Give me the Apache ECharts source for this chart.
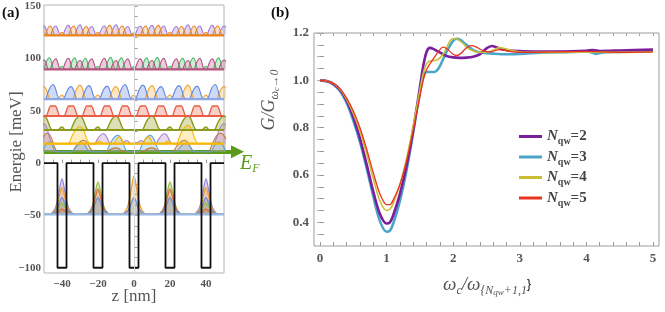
<!DOCTYPE html>
<html><head><meta charset="utf-8">
<script src="https://cdn.jsdelivr.net/npm/echarts@6/dist/echarts.min.js"></script>
<style>html,body{margin:0;padding:0;background:#fff}#c{width:665px;height:312px}</style>
</head><body><div id="c"></div>
<script>
// ---------- Panel (a) data ----------
const potential = [[-50,0],[-42.5,0],[-42.5,-100],[-37.5,-100],[-37.5,0],[-22.5,0],[-22.5,-100],[-17.5,-100],[-17.5,0],[-2.5,0],[-2.5,-100],[2.5,-100],[2.5,0],[17.5,0],[17.5,-100],[22.5,-100],[22.5,0],[37.5,0],[37.5,-100],[42.5,-100],[42.5,0],[50,0]];
const fermiLevel = 10.8;
const levels = {A:122, B:89.5, C:61, D:45, E:31.5, F1:18.5, G:-49};

// humps: [centre z (nm), peak energy (meV), half width (nm)]
const humpsA_purple = [[-50,131,2.8],[-43.5,131,2.8],[-36.5,131.5,2.8],[-30,132,2.8],[-23.5,130.5,2.8],[-16.5,131,2.8],[-10,132,2.8],[-3.5,130.5,2.8],[3.5,131,2.8],[10,131.5,2.8],[16.5,131,2.8],[23.5,130.5,2.8],[30,132,2.8],[36.5,131,2.8],[43.5,131.5,2.8],[50,131,2.8]];
const humpsA_orange = [[-46.5,131,2.8],[-40,125,1.6],[-33.5,131,2.8],[-26.5,130.5,2.8],[-20,125,1.6],[-13.5,131.5,2.8],[-6.5,131,2.8],[0,124.5,1.6],[6.5,131,2.8],[13.5,131.5,2.8],[20,125,1.6],[26.5,130.5,2.8],[33.5,131,2.8],[40,125,1.6],[46.5,131,2.8]];
const humpsB_pink = [[-50,98.5,2.8],[-43.5,99.5,2.8],[-36.5,100,2.8],[-30,98,2.8],[-23.5,99.5,2.8],[-16.5,100,2.8],[-10,98,2.8],[-3.5,99.5,2.8],[3.5,99.5,2.8],[10,98,2.8],[16.5,100,2.8],[23.5,99.5,2.8],[30,98,2.8],[36.5,100,2.8],[43.5,99.5,2.8],[50,98.5,2.8]];
const humpsB_green = [[-47,100.5,2.7],[-40,92.5,1.6],[-33,100.5,2.7],[-27,100,2.7],[-20,92.5,1.6],[-13,101,2.7],[-7,100.5,2.7],[0,92.5,1.6],[7,100.5,2.7],[13,101,2.7],[20,92.5,1.6],[27,100,2.7],[33,100.5,2.7],[40,92.5,1.6],[47,100.5,2.7]];
const humpsC_blue = [[-45,75,3.8],[-35,73,3.8],[-25,74,3.8],[-15,73.5,3.8],[-5,75,3.8],[5,74.5,3.8],[15,73,3.8],[25,74,3.8],[35,73.5,3.8],[45,75,3.8]];
const humpsC_orange = [[-50,73,3.8],[-40,65,2],[-30,74.5,3.8],[-20,65,2],[-10,73,3.8],[0,65,2],[10,74,3.8],[20,65,2],[30,74.5,3.8],[40,65,2],[50,73,3.8]];
const bandD_red = [[-50,45],[-49,45],[-46.2,54.5],[-43.8,54.5],[-41,45],[-39,45],[-36.2,54.5],[-33.8,54.5],[-31,45],[-29,45],[-26.2,54.5],[-23.8,54.5],[-21,45],[-19,45],[-16.2,54.5],[-13.8,54.5],[-11,45],[-9,45],[-6.2,54.5],[-3.8,54.5],[-1,45],[1,45],[3.8,54.5],[6.2,54.5],[9,45],[11,45],[13.8,54.5],[16.2,54.5],[19,45],[21,45],[23.8,54.5],[26.2,54.5],[29,45],[31,45],[33.8,54.5],[36.2,54.5],[39,45],[41,45],[43.8,54.5],[46.2,54.5],[49,45],[50,45]];
const humpsE_olive = [[-50,45,5],[-40,34.5,2],[-30,45,5],[-20,34.5,2],[-10,45,5],[10,45,5],[20,34.5,2],[30,45,5],[40,34.5,2],[50,45,5]];
const humpsF1_gold = [[-30,35,6],[-19,21,2.2],[-8,25,3],[8,25,3],[19,21,2.2],[30,36,6]];
const humpsF1_purple = [[-50,37.5,5],[-17,28,4.5],[-4,21.5,2.3],[4,21.5,2.3],[17,28,4.5],[50,37.5,5]];
const humpsF0_brown = [[-48,28.5,6],[-28,21.8,6],[-10,14.5,5],[10,14.5,5],[28,21.8,6],[48,28.5,6]];
const humpsF0_blue = [[-47,20,4],[-29,19,5],[-9,26.5,6],[9,26.5,6],[29,19,5],[47,20,4]];

const ground_purple = [[-50,-49],[-47,-49],[-44.3,-44.9],[-42.8,-37.8],[-41.4,-25.2],[-40,-15],[-38.6,-25.2],[-37.2,-37.8],[-35.7,-44.9],[-33,-49],[33,-49],[35.7,-44.9],[37.2,-37.8],[38.6,-25.2],[40,-15],[41.4,-25.2],[42.8,-37.8],[44.3,-44.9],[47,-49],[50,-49]];
const ground_orange = [[-50,-49],[-47,-49],[-44.3,-45.9],[-42.8,-40.6],[-41.4,-31.1],[-40,-23.5],[-38.6,-31.1],[-37.2,-40.6],[-35.7,-45.9],[-33,-49],[-7,-49],[-4.3,-44.6],[-2.8,-37],[-1.4,-23.4],[0,-12.5],[1.4,-23.4],[2.8,-37],[4.3,-44.6],[7,-49],[33,-49],[35.7,-45.9],[37.2,-40.6],[38.6,-31.1],[40,-23.5],[41.4,-31.1],[42.8,-40.6],[44.3,-45.9],[47,-49],[50,-49]];
const ground_green = [[-50,-49],[-47,-49],[-44.3,-47.7],[-42.8,-45.4],[-41.4,-41.3],[-40,-38],[-38.6,-41.3],[-37.2,-45.4],[-35.7,-47.7],[-33,-49],[-27,-49],[-24.3,-45.3],[-22.8,-38.8],[-21.4,-27.3],[-20,-18],[-18.6,-27.3],[-17.2,-38.8],[-15.7,-45.3],[-13,-49],[13,-49],[15.7,-45.3],[17.2,-38.8],[18.6,-27.3],[20,-18],[21.4,-27.3],[22.8,-38.8],[24.3,-45.3],[27,-49],[33,-49],[35.7,-47.7],[37.2,-45.4],[38.6,-41.3],[40,-38],[41.4,-41.3],[42.8,-45.4],[44.3,-47.7],[47,-49],[50,-49]];
const ground_red = [[-50,-49],[-47,-49],[-44.3,-48.4],[-42.8,-47.3],[-41.4,-45.5],[-40,-44],[-38.6,-45.5],[-37.2,-47.3],[-35.7,-48.4],[-33,-49],[-27,-49],[-24.3,-46.1],[-22.8,-41.1],[-21.4,-32.2],[-20,-25],[-18.6,-32.2],[-17.2,-41.1],[-15.7,-46.1],[-13,-49],[13,-49],[15.7,-46.1],[17.2,-41.1],[18.6,-32.2],[20,-25],[21.4,-32.2],[22.8,-41.1],[24.3,-46.1],[27,-49],[33,-49],[35.7,-48.4],[37.2,-47.3],[38.6,-45.5],[40,-44],[41.4,-45.5],[42.8,-47.3],[44.3,-48.4],[47,-49],[50,-49]];
const ground_blue = [[-50,-49],[-47,-49],[-44.3,-47.1],[-42.8,-43.7],[-41.4,-37.8],[-40,-33],[-38.6,-37.8],[-37.2,-43.7],[-35.7,-47.1],[-33,-49],[-27,-49],[-24.3,-47.1],[-22.8,-43.7],[-21.4,-37.8],[-20,-33],[-18.6,-37.8],[-17.2,-43.7],[-15.7,-47.1],[-13,-49],[-7,-49],[-4.3,-47.1],[-2.8,-43.7],[-1.4,-37.8],[0,-33],[1.4,-37.8],[2.8,-43.7],[4.3,-47.1],[7,-49],[13,-49],[15.7,-47.1],[17.2,-43.7],[18.6,-37.8],[20,-33],[21.4,-37.8],[22.8,-43.7],[24.3,-47.1],[27,-49],[33,-49],[35.7,-47.1],[37.2,-43.7],[38.6,-37.8],[40,-33],[41.4,-37.8],[42.8,-43.7],[44.3,-47.1],[47,-49],[50,-49]];

const aXTicks = [-45,-40,-35,-30,-25,-20,-15,-10,-5,0,5,10,15,20,25,30,35,40,45];
const aXLabels = [-40,-20,0,20,40];
const aYTicks = [-100,-90,-80,-70,-60,-50,-40,-30,-20,-10,0,10,20,30,40,50,60,70,80,90,100,110,120,130,140,150];
const aYLabels = [-100,-50,0,50,100,150];

// ---------- Panel (b) data ----------
const cond_N2 = [[0,1.0],[0.1,0.997],[0.2,0.985],[0.3,0.96],[0.4,0.915],[0.5,0.845],[0.6,0.755],[0.7,0.645],[0.8,0.53],[0.9,0.435],[1.0,0.395],[1.05,0.4],[1.1,0.43],[1.2,0.52],[1.3,0.64],[1.4,0.79],[1.5,0.97],[1.55,1.06],[1.6,1.12],[1.65,1.137],[1.7,1.133],[1.8,1.118],[1.9,1.103],[2.0,1.097],[2.1,1.095],[2.2,1.096],[2.3,1.1],[2.4,1.11],[2.5,1.135],[2.58,1.145],[2.65,1.14],[2.75,1.13],[2.9,1.125],[3.2,1.122],[3.6,1.122],[4.0,1.125],[4.1,1.128],[4.2,1.124],[4.5,1.126],[5.0,1.13]];
const cond_N3 = [[0,1.0],[0.1,0.996],[0.2,0.983],[0.3,0.955],[0.4,0.905],[0.5,0.83],[0.6,0.74],[0.7,0.63],[0.8,0.51],[0.9,0.405],[1.0,0.36],[1.05,0.365],[1.1,0.395],[1.2,0.49],[1.3,0.62],[1.4,0.78],[1.5,0.95],[1.55,1.015],[1.6,1.035],[1.7,1.035],[1.75,1.04],[1.8,1.06],[1.9,1.12],[2.0,1.167],[2.05,1.176],[2.1,1.172],[2.2,1.15],[2.3,1.128],[2.4,1.118],[2.6,1.113],[2.8,1.11],[3.0,1.112],[3.4,1.118],[3.8,1.12],[4.0,1.122],[4.08,1.118],[4.15,1.112],[4.25,1.118],[4.5,1.12],[5.0,1.125]];
const cond_N4 = [[0,1.0],[0.1,0.997],[0.2,0.986],[0.3,0.962],[0.4,0.92],[0.5,0.86],[0.6,0.785],[0.7,0.69],[0.8,0.585],[0.9,0.49],[1.0,0.45],[1.05,0.455],[1.1,0.48],[1.2,0.56],[1.3,0.67],[1.4,0.81],[1.5,0.96],[1.55,1.03],[1.6,1.07],[1.65,1.082],[1.75,1.085],[1.85,1.11],[1.95,1.165],[2.0,1.177],[2.05,1.176],[2.15,1.155],[2.25,1.13],[2.4,1.118],[2.55,1.122],[2.7,1.138],[2.8,1.132],[3.0,1.12],[3.5,1.118],[4.0,1.12],[4.5,1.118],[5.0,1.12]];
const cond_N5 = [[0,1.0],[0.1,0.997],[0.2,0.987],[0.3,0.965],[0.4,0.925],[0.5,0.87],[0.6,0.8],[0.7,0.71],[0.8,0.61],[0.9,0.52],[1.0,0.475],[1.05,0.475],[1.1,0.495],[1.2,0.56],[1.3,0.66],[1.4,0.79],[1.5,0.93],[1.55,1.0],[1.6,1.045],[1.7,1.09],[1.8,1.13],[1.85,1.14],[1.92,1.13],[2.0,1.11],[2.05,1.105],[2.12,1.115],[2.2,1.138],[2.28,1.147],[2.35,1.14],[2.45,1.125],[2.55,1.12],[2.7,1.13],[2.8,1.125],[3.0,1.118],[3.5,1.12],[4.0,1.122],[4.5,1.118],[5.0,1.12]];
const bXTicks = [0,0.2,0.4,0.6,0.8,1,1.2,1.4,1.6,1.8,2,2.2,2.4,2.6,2.8,3,3.2,3.4,3.6,3.8,4,4.2,4.4,4.6,4.8,5];
const bXLabels = [0,1,2,3,4,5];
const bYTicks = [0.35,0.4,0.45,0.5,0.55,0.6,0.65,0.7,0.75,0.8,0.85,0.9,0.95,1.0,1.05,1.1,1.15,1.2];
const bYLabels = [0.4,0.6,0.8,1.0,1.2];
const legendKeys = ['N2','N3','N4','N5'];
const legendNums = ['2','3','4','5'];

// ---------- build ----------
const SERIF = '"Liberation Serif","DejaVu Serif",serif';
const chart = echarts.init(document.getElementById('c'), null, {renderer:'canvas'});

// turn hump list into baseline / peak points (shape drawn by the library's smoothing)
function humpPoints(humps, E0) {
  const pts = []; let last = null;
  humps.forEach(([c, top, hw]) => {
    const a = c - hw, b = c + hw;
    if (last === null) { if (a > -50) { pts.push([-50, E0], [a - 0.1, E0]); } }
    else { pts.push([last + 0.1, E0]); if (a - 0.1 > last + 0.1) pts.push([a - 0.1, E0]); }
    pts.push([a, E0], [c, top], [b, E0]);
    last = b;
  });
  if (last < 50) pts.push([last + 0.1, E0], [50, E0]);
  return pts;
}
function band(humps, line, fill, E0, lw) {
  return {type:'line', xAxisIndex:0, yAxisIndex:0, data:humpPoints(humps, E0), symbol:'none', smooth:0.5,
    lineStyle:{color:line, width:lw||1.1}, areaStyle:{color:fill, origin:E0}, silent:true};
}
function bell(data, line, fill) {
  return {type:'line', xAxisIndex:0, yAxisIndex:0, data, symbol:'none', smooth:0.35,
    lineStyle:{color:line, width:1.3}, areaStyle:{color:fill, origin:levels.G}, silent:true};
}
function base(E, color, w) {
  return {type:'line', xAxisIndex:0, yAxisIndex:0, data:[[-50,E],[50,E]], symbol:'none',
    lineStyle:{color, width:w||2}, silent:true};
}
function curve(name, data, color, w) {
  return {name, type:'line', xAxisIndex:1, yAxisIndex:1, data, symbol:'none', smooth:0.3,
    lineStyle:{color, width:w}, itemStyle:{color}};
}
function tickAxis(extra) {
  return Object.assign({type:'value', axisLine:{show:false}, splitLine:{show:false}}, extra);
}

const series = [
  Object.assign(bell(ground_purple,'#9a85d8','rgba(160,140,220,0.45)'), {markLine:{silent:true, symbol:'none', animation:false, label:{show:false}, lineStyle:{color:'#d4d4d4', width:1, type:'solid'}, data:[{xAxis:0}]}}),
  bell(ground_green,'#92c042','rgba(150,200,80,0.45)'),
  bell(ground_orange,'#f0a033','rgba(245,170,70,0.5)'),
  bell(ground_red,'#ec6a3e','rgba(236,110,70,0.4)'),
  bell(ground_blue,'#6d93d6','rgba(120,150,215,0.45)'),
  base(levels.G,'#9ab8e4',2.2),
  band(humpsF0_brown,'#c3792c','rgba(205,140,80,0.5)',fermiLevel),
  band(humpsF0_blue,'#5fa5dc','rgba(130,180,225,0.5)',fermiLevel),
  band(humpsF1_purple,'#a77cc8','rgba(180,140,210,0.45)',levels.F1),
  band(humpsF1_gold,'#f7b900','rgba(250,200,60,0.45)',levels.F1),
  base(levels.F1,'#f7b900',2.2),
  band(humpsE_olive,'#8c9a1c','rgba(160,165,50,0.5)',levels.E,1.4),
  base(levels.E,'#8c9a1c',2),
  {type:'line', xAxisIndex:0, yAxisIndex:0, data:bandD_red, symbol:'none', smooth:0.4, smoothMonotone:'x',
    lineStyle:{color:'#e85d45', width:1.3}, areaStyle:{color:'rgba(240,130,110,0.55)', origin:levels.D}, silent:true},
  base(levels.D,'#e85d45',2),
  band(humpsC_orange,'#f2a533','rgba(245,185,90,0.5)',levels.C),
  band(humpsC_blue,'#5f85e0','rgba(120,150,230,0.5)',levels.C),
  base(levels.C,'#8ea6e6',2.2),
  band(humpsB_green,'#4fb56c','rgba(110,200,140,0.5)',levels.B),
  band(humpsB_pink,'#b8527e','rgba(195,110,150,0.5)',levels.B),
  base(levels.B,'#b8527e',2.2),
  band(humpsA_purple,'#a07ad8','rgba(170,140,225,0.5)',levels.A),
  band(humpsA_orange,'#e8841c','rgba(240,160,70,0.45)',levels.A),
  base(levels.A,'#e8841c',2.2),
  {type:'line', xAxisIndex:0, yAxisIndex:0, data:potential, symbol:'none', lineStyle:{color:'#111', width:1.8}, silent:true},
  {type:'lines', coordinateSystem:'cartesian2d', xAxisIndex:0, yAxisIndex:0, clip:false, silent:true,
   symbol:['none','triangle'], symbolSize:13, lineStyle:{color:'#5b9b1b', width:4, opacity:1, curveness:0},
   data:[{coords:[[-50,fermiLevel],[57.5,fermiLevel]]}]},
  curve('N3', cond_N3, '#4aa5c8', 2.6),
  curve('N2', cond_N2, '#7a1e9c', 2.6),
  curve('N4', cond_N4, '#c9bf35', 1.6),
  curve('N5', cond_N5, '#ea3320', 1.3)
];

const tickLbl = {fontFamily:SERIF, fontWeight:'bold', color:'#555'};
const option = {
  animation:false,
  backgroundColor:'#fff',
  grid:[
    {left:44, top:5, width:180, height:268, show:true, borderColor:'#b4b4b4', borderWidth:1},
    {left:314, top:33, width:345, height:213, show:true, borderColor:'#9c9c9c', borderWidth:1}
  ],
  xAxis:[
    tickAxis({gridIndex:0, min:-50, max:50, position:'bottom',
      axisTick:{inside:true, length:3.5, customValues:aXTicks, lineStyle:{color:'#999'}},
      axisLabel:{customValues:aXLabels, margin:6, fontSize:11, ...tickLbl, formatter:v=> v<0 ? '\u2212'+(-v) : String(v)}}),
    tickAxis({gridIndex:1, min:-0.09, max:5.09, position:'bottom',
      axisTick:{inside:true, length:4, customValues:bXTicks, lineStyle:{color:'#999'}},
      axisLabel:{customValues:bXLabels, margin:6, fontSize:13, ...tickLbl}}),
    tickAxis({gridIndex:1, min:-0.09, max:5.09, position:'top',
      axisTick:{inside:true, length:3, customValues:bXTicks, lineStyle:{color:'#aaa'}},
      axisLabel:{show:false}})
  ],
  yAxis:[
    tickAxis({gridIndex:0, min:-105, max:151, position:'left',
      axisTick:{inside:true, length:3.5, customValues:aYTicks, lineStyle:{color:'#999'}},
      axisLabel:{customValues:aYLabels, margin:3, fontSize:11, ...tickLbl, formatter:v=> v<0 ? '\u2212'+(-v) : String(v)}}),
    tickAxis({gridIndex:1, min:0.3, max:1.2, position:'left',
      axisTick:{inside:true, length:4, customValues:bYTicks, lineStyle:{color:'#999'}},
      axisLabel:{customValues:bYLabels, margin:5, fontSize:13, ...tickLbl, formatter:v=> v.toFixed(1)}}),
    tickAxis({gridIndex:1, min:0.3, max:1.2, position:'right',
      axisTick:{inside:true, length:3, customValues:bYTicks, lineStyle:{color:'#aaa'}},
      axisLabel:{show:false}})
  ],
  legend:{
    orient:'vertical', left:519, top:129, padding:0, itemWidth:23, itemHeight:3, itemGap:3,
    data: legendKeys.map(k => ({name:k, icon:'rect'})), selectedMode:false,
    formatter: name => '{n|N}{s|qw}{e|=' + legendNums[legendKeys.indexOf(name)] + '}',
    textStyle:{ rich:{
      n:{fontFamily:SERIF, fontStyle:'italic', fontWeight:'bold', fontSize:15, color:'#444', lineHeight:20},
      s:{fontFamily:SERIF, fontWeight:'bold', fontSize:10, color:'#444', lineHeight:12, verticalAlign:'bottom'},
      e:{fontFamily:SERIF, fontWeight:'bold', fontSize:15, color:'#444', lineHeight:20}
    }}
  },
  graphic:[
    {type:'text', left:2, top:6, style:{text:'(a)', font:'bold 15px '+SERIF, fill:'#111'}},
    {type:'text', left:271, top:6, style:{text:'(b)', font:'bold 15px '+SERIF, fill:'#111'}},
    {type:'text', x:17, y:142, rotation:Math.PI/2, style:{text:'Energie [meV]', font:'17px '+SERIF, fill:'#555', align:'center', verticalAlign:'middle', textAlign:'center', textVerticalAlign:'middle'}},
    {type:'text', x:134, y:297, style:{text:'z [nm]', font:'17px '+SERIF, fill:'#555', align:'center', verticalAlign:'middle', textAlign:'center', textVerticalAlign:'middle'}},
    {type:'text', left:240, top:154, style:{text:'{e|E}{f|F}', rich:{
      e:{fontFamily:SERIF, fontStyle:'italic', fontSize:20, fill:'#5b9b1b', lineHeight:22},
      f:{fontFamily:SERIF, fontStyle:'italic', fontSize:12, fill:'#5b9b1b', lineHeight:12, verticalAlign:'bottom'}}}},
    {type:'text', x:269, y:100, rotation:Math.PI/2, style:{text:'{g|G/G}{s|ω}{t|c}{s|→0}', align:'center', verticalAlign:'middle', textAlign:'center', textVerticalAlign:'middle', rich:{
      g:{fontFamily:SERIF, fontStyle:'italic', fontSize:18, fill:'#555', lineHeight:24},
      s:{fontFamily:SERIF, fontStyle:'italic', fontSize:12, fill:'#555', lineHeight:14, verticalAlign:'bottom'},
      t:{fontFamily:SERIF, fontStyle:'italic', fontSize:8, fill:'#555', lineHeight:8, verticalAlign:'bottom'}}}},
    {type:'text', x:487, y:285, style:{text:'{g|ω}{s|c}{g|/ω}{s|{N}{t|qw}{s|+1,1}}', align:'center', verticalAlign:'middle', textAlign:'center', textVerticalAlign:'middle', rich:{
      g:{fontFamily:SERIF, fontStyle:'italic', fontSize:19, fill:'#555', lineHeight:24},
      s:{fontFamily:SERIF, fontStyle:'italic', fontSize:12, fill:'#555', lineHeight:14, verticalAlign:'bottom'},
      t:{fontFamily:SERIF, fontStyle:'italic', fontSize:9, fill:'#555', lineHeight:9, verticalAlign:'bottom'}}}}
  ],
  series
};
chart.setOption(option);
</script></body></html>
